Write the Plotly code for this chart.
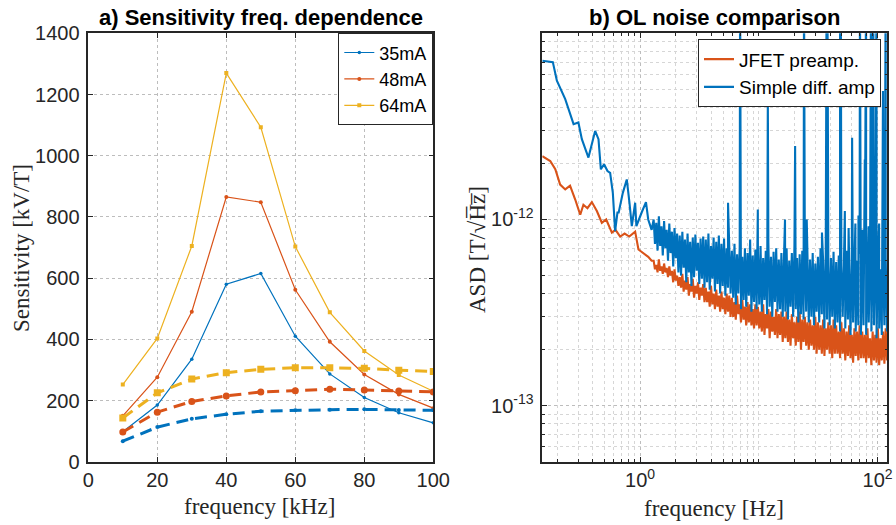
import numpy as np
import plotly.graph_objects as go

BLUE = '#0072BD'
RED = '#D95319'
YEL = '#EDB120'

# ---------------- panel a) data ----------------
freq_khz = [10, 20, 30, 40, 50, 60, 70, 80, 90, 100]
sens_35 = [98, 185, 335, 580, 615, 410, 287, 210, 160, 127]
sens_48 = [150, 276, 490, 865, 848, 562, 392, 285, 220, 175]
sens_64 = [252, 403, 705, 1270, 1093, 703, 488, 362, 283, 230]
model_35 = [67, 113, 140, 155, 165, 168, 170, 171, 169, 168]
model_48 = [97, 162, 197, 215, 228, 232, 237, 234, 231, 228]
model_64 = [143, 225, 270, 291, 302, 307, 307, 305, 299, 295]
x_ticks_a = [0, 20, 40, 60, 80, 100]
y_ticks_a = [0, 200, 400, 600, 800, 1000, 1200, 1400]

# ---------------- panel b) data (ASD in units of 1e-14 T/sqrt(Hz)) ----------------
ASD_UNIT = 1e-14
# smooth low-frequency part
blue_low_f = [0.15, 0.184, 0.199, 0.234, 0.275, 0.302, 0.323, 0.367, 0.418, 0.446, 0.467,
              0.497, 0.531, 0.559, 0.589, 0.616, 0.644, 0.66, 0.715, 0.772, 0.813, 0.851,
              0.908, 0.93, 1.03, 1.12, 1.17, 1.25]
blue_low_v = [712, 700, 556, 443, 325, 332, 270, 215, 299, 270, 186,
              198, 182, 178, 139, 86.5, 109, 109, 139, 164, 123, 92,
              123, 92, 109, 124, 100, 88]
red_low_f = [0.15, 0.175, 0.193, 0.212, 0.234, 0.257, 0.284, 0.313, 0.333, 0.36, 0.392,
             0.432, 0.476, 0.518, 0.578, 0.62, 0.679, 0.74, 0.81, 0.908, 0.968, 1.07,
             1.17, 1.25]
red_low_v = [219, 206, 186, 154, 145, 152, 128, 106, 120, 115, 124,
             111, 96, 100, 85, 88, 81, 84, 81, 86, 69, 66,
             63, 60]

# dense noisy band 1.3 Hz .. 120 Hz : alternating peaks / troughs
BAND_F_START, BAND_F_END = 1.3, 120.0
blue_peaks = [100, 96, 104, 92, 98, 88, 95, 86, 90, 84,
              82, 86, 78, 84, 76, 80, 83, 75, 79, 81,
              78, 84, 72, 80, 76, 82, 74, 79, 70, 76,
              68, 74, 65, 71, 63, 70, 66, 78, 64, 69,
              66, 72, 62, 68, 75, 63, 67, 70, 61, 66,
              64, 70, 60, 66, 73, 62, 65, 68, 59, 64,
              61, 66, 58, 63, 70, 60, 64, 57, 62, 67,
              59, 64, 56, 61, 68, 58, 62, 55, 60, 65,
              58, 63, 55, 60, 66, 57, 61, 54, 59, 62]
blue_troughs = [74, 68, 72, 64, 70, 60, 66, 56, 62, 52,
                50, 55, 46, 52, 44, 49, 53, 45, 48, 43,
                46, 42, 48, 41, 45, 40, 44, 39, 43, 40,
                38, 35, 40, 33, 37, 34, 39, 32, 36, 33,
                35, 32, 37, 31, 34, 30, 36, 32, 33, 30,
                32, 29, 34, 30, 33, 28, 31, 29, 32, 28,
                30, 27, 32, 28, 31, 26, 29, 27, 30, 26,
                28, 25, 30, 26, 29, 24, 28, 25, 27, 24,
                27, 24, 28, 25, 27, 23, 26, 24, 27, 25]
red_peaks = [60, 57, 61, 56, 58, 55, 56, 53, 54, 50,
             49, 51, 47, 49, 45, 48, 44, 46, 43, 45,
             43, 41, 44, 40, 42, 39, 41, 38, 40, 39,
             38, 36, 39, 35, 37, 34, 36, 35, 33, 35,
             34, 32, 35, 31, 33, 32, 30, 33, 31, 32,
             30, 32, 29, 31, 28, 30, 32, 29, 30, 28,
             29, 27, 30, 28, 27, 29, 26, 28, 27, 29,
             27, 25, 28, 26, 25, 27, 24, 26, 25, 27,
             25, 24, 26, 23, 25, 24, 26, 23, 25, 26]
red_troughs = [54, 52, 53, 51, 52, 49, 50, 46, 47, 44,
               43, 41, 42, 39, 41, 38, 40, 37, 39, 36,
               36, 34, 35, 33, 34, 32, 33, 31, 32, 30,
               30, 29, 31, 28, 29, 27, 28, 27, 26, 27,
               26, 25, 24, 26, 23, 25, 24, 23, 24, 22,
               23, 22, 21, 23, 21, 22, 20, 22, 21, 20,
               21, 20, 19, 20, 19, 18.5, 20, 19, 18, 19,
               19, 18, 19, 17.5, 18.5, 18, 17, 18.5, 17.5, 18,
               18, 17, 18, 16.5, 17.5, 17, 16.5, 17.5, 16.8, 17.5]
# narrow line peaks of the simple diff. amp (values above 1000 run off the top)
spike_f = [5.5, 6.95, 9.8, 11.9, 16.6, 20.2, 24.0, 25.3, 34.0, 37.2, 37.8, 48.3, 49.0,
           53.0, 57.0, 61.0, 65.0, 69.0, 71.0, 75.0, 78.0, 80.0, 84.0, 88.0, 92.0, 98.0,
           103.0, 111.0, 117.0]
spike_v = [123, 2000, 113, 452, 100, 248, 2000, 100, 85, 2000, 2000, 2000, 2000,
           111, 90, 275, 95, 105, 2000, 88, 210, 2000, 92, 2000, 2000, 2000,
           95, 490, 2000]


def interleave(peaks, troughs):
    out = []
    for p, t in zip(peaks, troughs):
        out += [p, t]
    return out


def build(low_f, low_v, peaks, troughs, extra_f=(), extra_v=()):
    band_v = interleave(peaks, troughs)
    band_f = np.geomspace(BAND_F_START, BAND_F_END, len(band_v))
    f = np.concatenate([low_f, band_f, extra_f])
    v = np.concatenate([low_v, band_v, extra_v])
    order = np.argsort(f, kind='stable')
    return f[order], v[order] * ASD_UNIT


red_f, red_asd = build(red_low_f, red_low_v, red_peaks, red_troughs)
blue_f, blue_asd = build(blue_low_f, blue_low_v, blue_peaks, blue_troughs, spike_f, spike_v)

# ---------------- figure ----------------
W, H = 896, 525
def px_x(p):
    return p / W
def px_y(p):
    return 1 - p / H

fig = go.Figure()
SANS = 'Liberation Sans, Arial, sans-serif'
TICKFONT = dict(family=SANS, size=20, color='#262626')
SERIF = 'Liberation Serif, DejaVu Serif, serif'

sol = [(sens_35, '35mA', BLUE, 'circle', 3.5),
       (sens_48, '48mA', RED, 'circle', 4),
       (sens_64, '64mA', YEL, 'square', 4)]
for vals, name, col, sym, ms in sol:
    fig.add_trace(go.Scatter(x=freq_khz, y=vals, name=name, mode='lines+markers',
                             line=dict(color=col, width=1.2),
                             marker=dict(color=col, symbol=sym, size=ms),
                             xaxis='x', yaxis='y', legend='legend'))
dsh = [(model_35, BLUE, 'circle', 4), (model_48, RED, 'circle', 7), (model_64, YEL, 'square', 7)]
for vals, col, sym, ms in dsh:
    fig.add_trace(go.Scatter(x=freq_khz, y=vals, mode='lines+markers', showlegend=False,
                             line=dict(color=col, width=3, dash='12px,7px'),
                             marker=dict(color=col, symbol=sym, size=ms),
                             xaxis='x', yaxis='y'))

fig.add_trace(go.Scatter(x=red_f, y=red_asd, name='JFET preamp.', mode='lines',
                         line=dict(color=RED, width=2.1), xaxis='x2', yaxis='y2',
                         legend='legend2'))
fig.add_trace(go.Scatter(x=blue_f, y=blue_asd, name='Simple diff. amp', mode='lines',
                         line=dict(color=BLUE, width=2.1), xaxis='x2', yaxis='y2',
                         legend='legend2'))

X_A = [px_x(88.3), px_x(433.3)]
X_B = [px_x(542.3), px_x(887.3)]
Y_D = [px_y(461.7), px_y(33.3)]

axis_common = dict(showline=True, linecolor='#262626', linewidth=1.5, mirror='ticks',
                   ticks='inside', ticklen=5, tickcolor='#262626', tickwidth=1,
                   tickfont=TICKFONT, zeroline=False, showgrid=True, automargin=False,
                   gridcolor='#bdbdbd', griddash='dot', gridwidth=1)

minor_x = [k * 10.0 ** n for n in (-1, 0, 1, 2) for k in range(1, 10)
           if k * 10.0 ** n not in (1.0, 100.0) and 0.15 <= k * 10.0 ** n <= 120]
minor_y = [k * 10.0 ** n for n in (-14, -13, -12) for k in range(1, 10)
           if k != 1 and 5e-14 <= k * 10.0 ** n <= 1e-11] + [1e-11]
minor_style = dict(showgrid=True, gridcolor='#d6d6d6', griddash='dot', gridwidth=1,
                   ticks='inside', ticklen=3, tickcolor='#262626')

fig.update_layout(
    width=W, height=H, margin=dict(l=0, r=0, t=0, b=0, pad=0, autoexpand=False),
    paper_bgcolor='white', plot_bgcolor='white',
    xaxis=dict(domain=X_A, range=[0, 100], tickvals=x_ticks_a, anchor='y', **axis_common),
    yaxis=dict(domain=Y_D, range=[0, 1400], tickvals=y_ticks_a, anchor='x',
               ticklabelstandoff=3, **axis_common),
    xaxis2=dict(domain=X_B, type='log', range=[np.log10(0.15), np.log10(120.7)],
                tickvals=[1, 100], ticktext=['10<sup>0</sup>', '10<sup>2</sup>'], anchor='y2',
                minor=dict(tickvals=minor_x, **minor_style), **axis_common),
    yaxis2=dict(domain=Y_D, type='log', range=[np.log10(5e-14), -11.0],
                tickvals=[1e-13, 1e-12], ticktext=['10<sup>-13</sup>', '10<sup>-12</sup>'],
                anchor='x2', ticklabelstandoff=3,
                minor=dict(tickvals=minor_y, **minor_style), **axis_common),
    legend=dict(x=px_x(433.3), y=px_y(33.3), xanchor='right', yanchor='top',
                bgcolor='white', bordercolor='#262626', borderwidth=1,
                font=dict(family=SANS, size=18, color='black'),
                tracegroupgap=0, itemwidth=30),
    legend2=dict(x=px_x(881), y=px_y(39.3), xanchor='right', yanchor='top',
                 bgcolor='white', bordercolor='#262626', borderwidth=1,
                 font=dict(family=SANS, size=19, color='black'),
                 tracegroupgap=0, itemwidth=30),
    showlegend=True,
)

ann = [
    dict(text='<b>a) Sensitivity freq. dependence</b>', x=px_x(260.8), y=px_y(18),
         font=dict(family=SANS, size=22, color='black')),
    dict(text='<b>b) OL noise comparison</b>', x=px_x(714.8), y=px_y(18),
         font=dict(family=SANS, size=22, color='black')),
    dict(text='frequency [kHz]', x=px_x(259), y=px_y(506),
         font=dict(family=SERIF, size=23, color='#262626')),
    dict(text='frequency [Hz]', x=px_x(714), y=px_y(508),
         font=dict(family=SERIF, size=23, color='#262626')),
    dict(text='Sensitivity [kV/T]', x=px_x(22), y=px_y(248), textangle=-90,
         font=dict(family=SERIF, size=23, color='#262626')),
    dict(text='ASD [T/\u221aH\u0305z\u0305]', x=px_x(477), y=px_y(250), textangle=-90,
         font=dict(family=SERIF, size=23, color='#262626')),
]
for a in ann:
    fig.add_annotation(xref='paper', yref='paper', showarrow=False,
                       xanchor='center', yanchor='middle', **a)

# remove the default page margin so the 896x525 figure fills the window exactly
PAGE_FIX = ("document.documentElement.style.margin='0';document.documentElement.style.padding='0';"
            "document.body.style.margin='0';document.body.style.padding='0';"
            "document.body.style.overflow='hidden';")
fig.write_html('out.html', post_script=PAGE_FIX,
               config={'responsive': False, 'displayModeBar': False})
